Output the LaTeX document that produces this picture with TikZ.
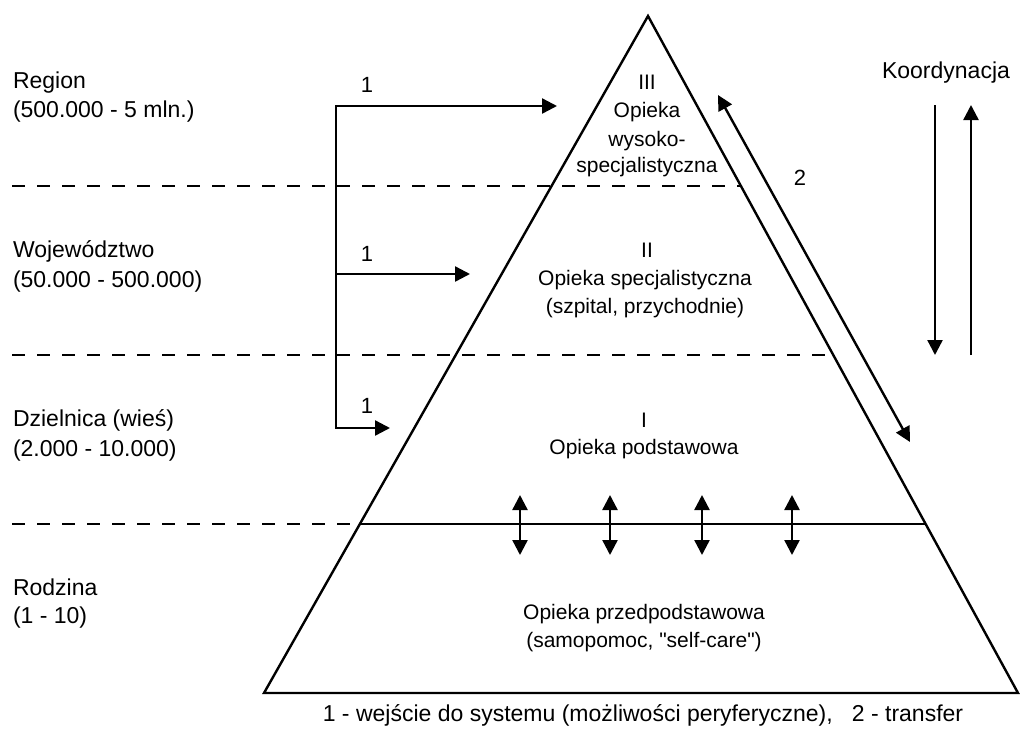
\documentclass[tikz,border=0pt]{standalone}
\usepackage{fontspec}
\setmainfont{Liberation Sans}
\usetikzlibrary{arrows.meta}
\begin{document}
\begin{tikzpicture}[x=1pt,y=-1pt,
  every node/.style={inner sep=0pt, outer sep=0pt},
  lvl/.style={anchor=base west, font=\fontsize{23}{29}\selectfont},
  tier/.style={anchor=base, font=\fontsize{21}{28}\selectfont},
  num/.style={anchor=base, font=\fontsize{22}{28}\selectfont},
  edge/.style={line width=2.4pt, line join=miter},
  sep/.style={line width=2.4pt, dash pattern=on 13pt off 12pt},
  arr/.style={line width=2.4pt, line join=miter, -{Triangle[length=15pt,width=15pt]}},
  darr/.style={line width=2.4pt, {Triangle[length=15pt,width=15pt]}-{Triangle[length=15pt,width=15pt]}},
]
\useasboundingbox (0,0) rectangle (1020,731);

% pyramid outline
\coordinate (apex) at (648,16);
\coordinate (bl) at (264,693);
\coordinate (br) at (1018,693);
\draw[edge] (bl) -- (apex) -- (br) -- cycle;

% level separators
\coordinate (s1a) at (12,186);  \coordinate (s1b) at (741,186);
\coordinate (s2a) at (12,355);  \coordinate (s2b) at (833,355);
\coordinate (s3a) at (12,524);  \coordinate (s3m) at (360,524);
\coordinate (s3b) at (926,524);
\draw[sep] (s1a) -- (s1b);
\draw[sep] (s2a) -- (s2b);
\draw[sep] (s3a) -- (s3m);
\draw[edge] (s3m) -- (s3b);

% population levels
\node[lvl] (reg1) at (13,88) {Region};
\node[lvl] (reg2) at (13,117) {(500.000 - 5 mln.)};
\node[lvl] (woj1) at (13,257) {Województwo};
\node[lvl] (woj2) at (13,287) {(50.000 - 500.000)};
\node[lvl] (dzi1) at (13,426) {Dzielnica (wieś)};
\node[lvl] (dzi2) at (13,456) {(2.000 - 10.000)};
\node[lvl] (rod1) at (13,595) {Rodzina};
\node[lvl] (rod2) at (13,623) {(1 - 10)};

% care tiers
\node[tier] (t3a) at (647,89) {III};
\node[tier] (t3b) at (647,117) {Opieka};
\node[tier] (t3c) at (647,146) {wysoko-};
\node[tier] (t3d) at (647,172) {specjalistyczna};
\node[tier] (t2a) at (647,257) {II};
\node[tier] (t2b) at (645,285) {Opieka specjalistyczna};
\node[tier] (t2c) at (645,313) {(szpital, przychodnie)};
\node[tier] (t1a) at (644,427) {I};
\node[tier] (t1b) at (644,454) {Opieka podstawowa};
\node[tier] (t0a) at (644,619) {Opieka przedpodstawowa};
\node[tier] (t0b) at (644,647) {(samopomoc, \textquotedbl self-care\textquotedbl)};

% entry into the system (1)
\coordinate (bktop) at (336,106);
\coordinate (bkmid) at (336,274);
\coordinate (bkbot) at (336,428);
\coordinate (e3) at (557,106);
\coordinate (e2) at (470,274);
\coordinate (e1) at (390,428);
\draw[arr] (bkbot) |- (e3);
\draw[arr] (bktop) |- (e1);
\draw[arr] (bkmid) -- (e2);
\node[num] (n3) at (367,92) {1};
\node[num] (n2) at (367,261) {1};
\node[num] (n1) at (367,413) {1};

% transfer (2)
\coordinate (tr1) at (718,95);
\coordinate (tr2) at (910,442);
\draw[darr] (tr1) -- (tr2);
\node[num] (n4) at (800,185) {2};

% coordination
\node[lvl, anchor=base] (koord) at (946,78) {Koordynacja};
\coordinate (kd1) at (935,105); \coordinate (kd2) at (935,355);
\coordinate (ku1) at (971,355); \coordinate (ku2) at (971,105);
\draw[arr] (kd1) -- (kd2);
\draw[arr] (ku1) -- (ku2);

% exchange between self-care and primary care
\foreach \i/\x in {1/520,2/610,3/702,4/792} {
  \coordinate (x\i a) at (\x,495);
  \coordinate (x\i b) at (\x,555);
  \draw[darr] (x\i a) -- (x\i b);
}

% legend
\node[lvl, anchor=base] (legend) at (643,721)
  {1 - wejście do systemu (możliwości peryferyczne),\ \ \ 2 - transfer};
\end{tikzpicture}
\end{document}
